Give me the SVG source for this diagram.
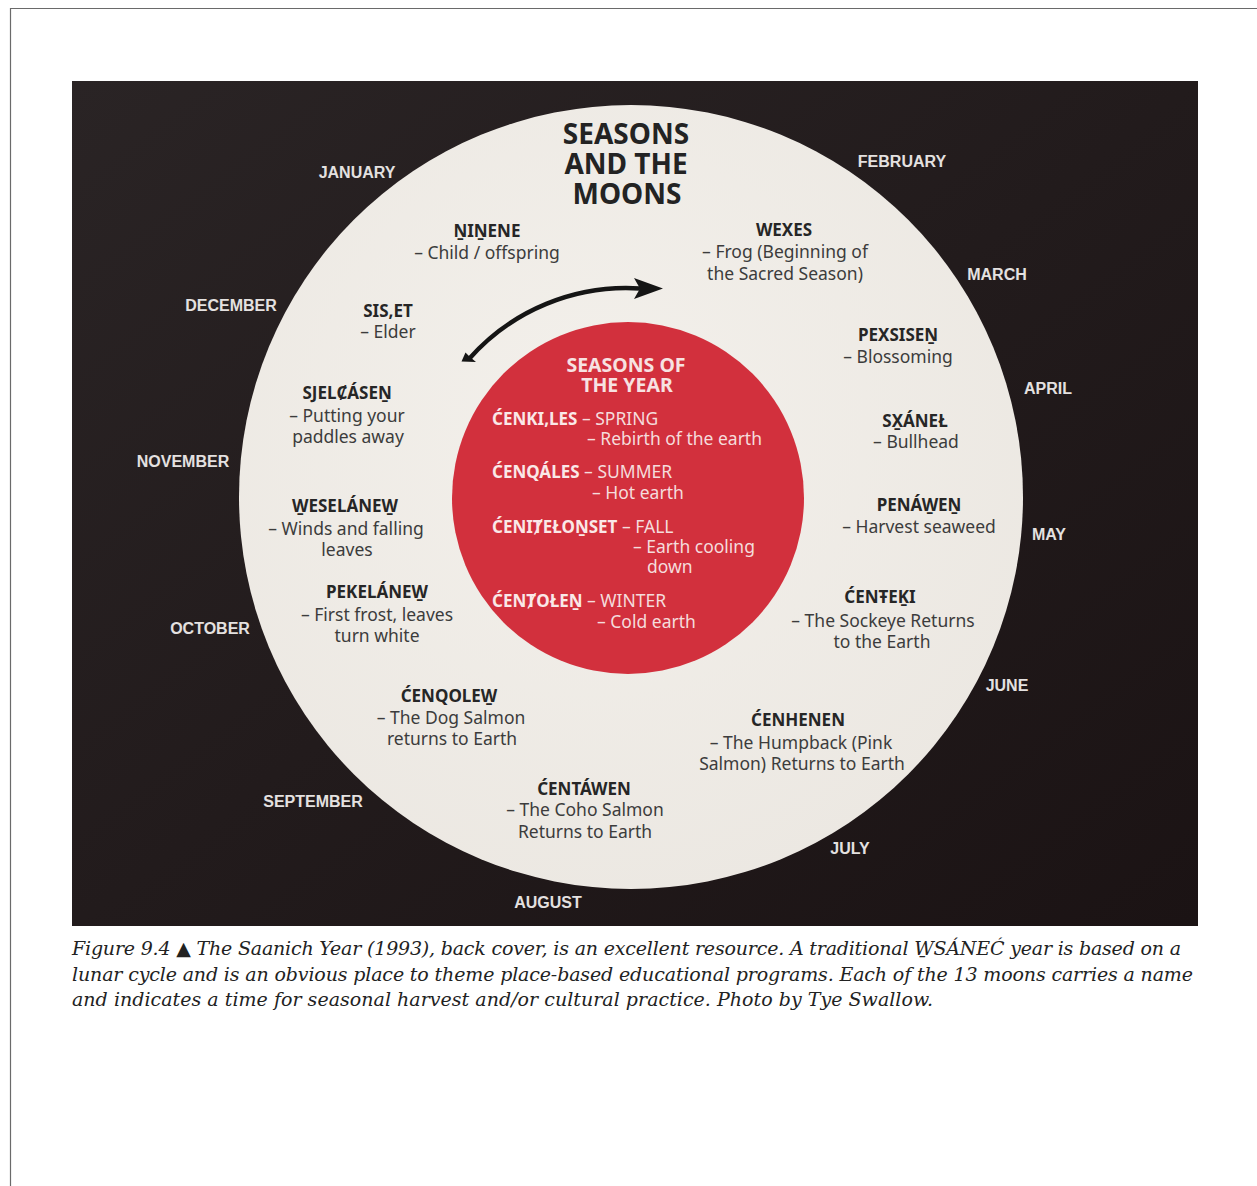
<svg xmlns="http://www.w3.org/2000/svg" width="1257" height="1186" viewBox="0 0 1257 1186">
  <defs>
    <linearGradient id="photoBg" x1="0" y1="0" x2="1" y2="1">
      <stop offset="0" stop-color="#2a2425"/>
      <stop offset="0.5" stop-color="#221b1c"/>
      <stop offset="1" stop-color="#1b1314"/>
    </linearGradient>
    <radialGradient id="disc" cx="0.45" cy="0.4" r="0.7">
      <stop offset="0" stop-color="#f3f0eb"/>
      <stop offset="1" stop-color="#ebe7e1"/>
    </radialGradient>
    <style>
      .month { font-family: "Liberation Sans", Arial, sans-serif; font-weight: bold; font-size: 16px; fill: #e4e1e0; text-anchor: middle; }
      .title { font-family: "Noto Sans", "DejaVu Sans", sans-serif; font-weight: bold; font-size: 28px; fill: #232323; text-anchor: middle; }
      .name { font-family: "Noto Sans", "DejaVu Sans", sans-serif; font-weight: bold; font-size: 17px; fill: #262626; text-anchor: middle; }
      .desc { font-family: "Noto Sans", "DejaVu Sans", sans-serif; font-size: 17.5px; fill: #3c3c3c; text-anchor: middle; }
      .stitle { font-family: "Noto Sans", "DejaVu Sans", sans-serif; font-weight: bold; font-size: 19.5px; fill: #f7e2e2; text-anchor: middle; }
      .season { font-family: "Noto Sans", "DejaVu Sans", sans-serif; font-size: 17.5px; fill: #f5dcdc; }
      .season .b { font-weight: bold; font-size: 17px; fill: #fae8e8; }
      .caption { font-family: "DejaVu Serif", "Liberation Serif", serif; font-style: italic; font-size: 19px; fill: #222222; }
      .ink { fill: #151515; }
    </style>
  </defs>

  <!-- page frame -->
  <g id="page">
    <rect x="0" y="0" width="1257" height="1186" fill="#ffffff"/>
    <path d="M10.5 1186 V8.5 H1257" fill="none" stroke="#6a6a6a" stroke-width="1.2"/>
  </g>

  <!-- dark backdrop, outer disc -->
  <g id="backdrop">
    <rect x="72" y="81" width="1126" height="845" fill="url(#photoBg)"/>
    <circle cx="631" cy="497" r="392" fill="url(#disc)"/>
  </g>

  <!-- month labels round the rim -->
  <g id="months">
    <g id="m-january"><text class="month" x="357" y="178">JANUARY</text></g>
    <g id="m-february"><text class="month" x="902" y="167">FEBRUARY</text></g>
    <g id="m-march"><text class="month" x="997" y="280">MARCH</text></g>
    <g id="m-april"><text class="month" x="1048" y="394">APRIL</text></g>
    <g id="m-may"><text class="month" x="1049" y="540">MAY</text></g>
    <g id="m-june"><text class="month" x="1007" y="691">JUNE</text></g>
    <g id="m-july"><text class="month" x="850" y="854">JULY</text></g>
    <g id="m-august"><text class="month" x="548" y="908">AUGUST</text></g>
    <g id="m-september"><text class="month" x="313" y="807">SEPTEMBER</text></g>
    <g id="m-october"><text class="month" x="210" y="634">OCTOBER</text></g>
    <g id="m-november"><text class="month" x="183" y="467">NOVEMBER</text></g>
    <g id="m-december"><text class="month" x="231" y="311">DECEMBER</text></g>
  </g>

  <!-- heading -->
  <g id="title">
    <text class="title" x="626" y="144">SEASONS</text>
    <text class="title" x="626" y="174">AND THE</text>
    <text class="title" x="627" y="204">MOONS</text>
  </g>

  <!-- the thirteen moons -->
  <g id="moon-ninene">
    <text class="name" x="487" y="237">ṈIṈENE</text>
    <text class="desc" x="487" y="259">– Child / offspring</text>
  </g>
  <g id="moon-wexes">
    <text class="name" x="784" y="236">WEXES</text>
    <text class="desc" x="785" y="258">– Frog (Beginning of</text>
    <text class="desc" x="785" y="280">the Sacred Season)</text>
  </g>
  <g id="moon-siset">
    <text class="name" x="388" y="317">SIS,ET</text>
    <text class="desc" x="388" y="338">– Elder</text>
  </g>
  <g id="moon-pexsisen">
    <text class="name" x="898" y="341">PEXSISEṈ</text>
    <text class="desc" x="898" y="363">– Blossoming</text>
  </g>
  <g id="moon-sjelcasen">
    <text class="name" x="347" y="399">SJELȻÁSEṈ</text>
    <text class="desc" x="347" y="422">– Putting your</text>
    <text class="desc" x="348" y="443">paddles away</text>
  </g>
  <g id="moon-sxanel">
    <text class="name" x="915" y="427">SX̱ÁNEŁ</text>
    <text class="desc" x="916" y="448">– Bullhead</text>
  </g>
  <g id="moon-weselanew">
    <text class="name" x="345" y="512">W̱ESELÁNEW̱</text>
    <text class="desc" x="346" y="535">– Winds and falling</text>
    <text class="desc" x="347" y="556">leaves</text>
  </g>
  <g id="moon-penawen">
    <text class="name" x="919" y="511">PENÁW̱EṈ</text>
    <text class="desc" x="919" y="533">– Harvest seaweed</text>
  </g>
  <g id="moon-pekelanew">
    <text class="name" x="377" y="598">PEKELÁNEW̱</text>
    <text class="desc" x="377" y="621">– First frost, leaves</text>
    <text class="desc" x="377" y="642">turn white</text>
  </g>
  <g id="moon-centeki">
    <text class="name" x="880" y="603">ĆENŦEḴI</text>
    <text class="desc" x="883" y="627">– The Sockeye Returns</text>
    <text class="desc" x="882" y="648">to the Earth</text>
  </g>
  <g id="moon-cenqolew">
    <text class="name" x="449" y="702">ĆENQOLEW̱</text>
    <text class="desc" x="451" y="724">– The Dog Salmon</text>
    <text class="desc" x="452" y="745">returns to Earth</text>
  </g>
  <g id="moon-cenhenen">
    <text class="name" x="798" y="726">ĆENHENEN</text>
    <text class="desc" x="801" y="749">– The Humpback (Pink</text>
    <text class="desc" x="802" y="770">Salmon) Returns to Earth</text>
  </g>
  <g id="moon-centawen">
    <text class="name" x="584" y="795">ĆENTÁWEN</text>
    <text class="desc" x="585" y="816">– The Coho Salmon</text>
    <text class="desc" x="585" y="838">Returns to Earth</text>
  </g>

  <!-- inner disc: seasons of the year -->
  <g id="seasons">
    <circle cx="628" cy="498" r="176" fill="#d2303d"/>
    <text class="stitle" x="626" y="372">SEASONS OF</text>
    <text class="stitle" x="627" y="392">THE YEAR</text>
    <text class="season" x="492" y="425"><tspan class="b">ĆENKI,LES</tspan> – SPRING</text>
    <text class="season" x="587" y="445">– Rebirth of the earth</text>
    <text class="season" x="492" y="478"><tspan class="b">ĆENQÁLES</tspan> – SUMMER</text>
    <text class="season" x="592" y="499">– Hot earth</text>
    <text class="season" x="492" y="533"><tspan class="b">ĆENIȾEŁOṈSET</tspan> – FALL</text>
    <text class="season" x="633" y="553">– Earth cooling</text>
    <text class="season" x="647" y="573">down</text>
    <text class="season" x="492" y="607"><tspan class="b">ĆENȾOŁEṈ</tspan> – WINTER</text>
    <text class="season" x="597" y="628">– Cold earth</text>
  </g>

  <!-- direction of the year: curved arrow with flared tail -->
  <g id="connectors">
    <path d="M469 359 A210 210 0 0 1 640 288.5" fill="none" stroke="#151515" stroke-width="4.5"/>
    <polygon class="ink" points="461.5,361.5 465.5,352.5 470,357 476,362"/>
    <polygon class="ink" points="663,288.5 634,278 640,288.5 634,299"/>
  </g>

  <!-- caption -->
  <g id="caption">
    <text class="caption" x="72" y="955" textLength="1109">Figure 9.4 ▲ The Saanich Year (1993), back cover, is an excellent resource. A traditional W̱SÁNEĆ year is based on a</text>
    <text class="caption" x="72" y="981" textLength="1121">lunar cycle and is an obvious place to theme place-based educational programs. Each of the 13 moons carries a name</text>
    <text class="caption" x="72" y="1006" textLength="861">and indicates a time for seasonal harvest and/or cultural practice. Photo by Tye Swallow.</text>
  </g>
</svg>
